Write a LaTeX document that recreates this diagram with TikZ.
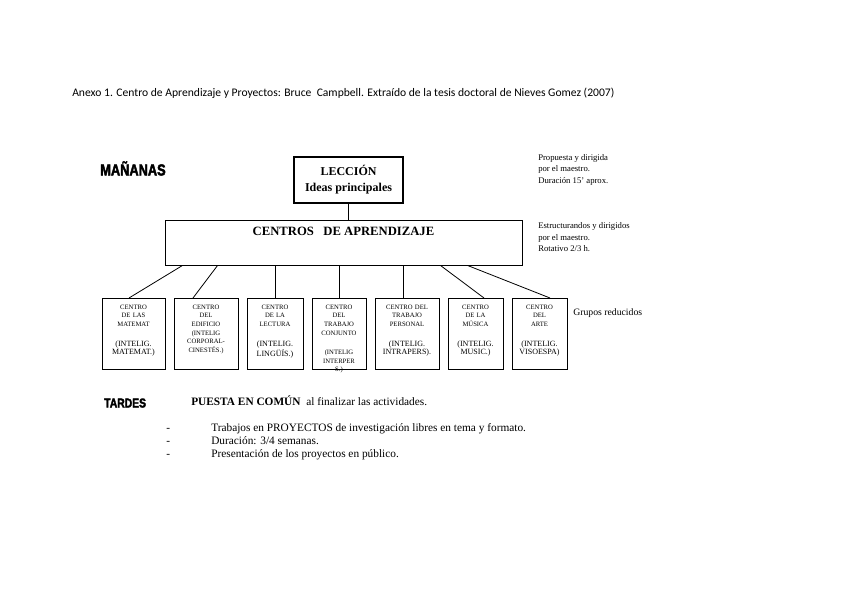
\documentclass[tikz,border=0pt]{standalone}
\usepackage{fontspec}
\setmainfont{Liberation Serif}
\newfontfamily\titlefont{Carlito}
\newfontfamily\heavyfont[FakeStretch=0.8,FakeBold=2.5]{Liberation Sans}
\usetikzlibrary{positioning,calc}

\newcommand{\intel}{\fontsize{6}{6.75}\selectfont}

\begin{document}
\begin{tikzpicture}[x=0.75pt, y=-0.75pt,
    box/.style={draw, line width=0.6pt, inner sep=0pt},
    centro/.style={draw, line width=0.6pt, anchor=north, align=center, inner xsep=0pt, inner ysep=3pt,
        text height=5.25pt, text depth=42pt, font=\fontsize{5}{6.4}\selectfont},
    nota/.style={anchor=north west, align=left, inner sep=0pt, font=\fontsize{6.5}{8.6}\selectfont},
    turno/.style={anchor=base west, inner sep=0pt, font=\heavyfont\bfseries},
    conector/.style={line width=0.6pt}]
\useasboundingbox (0,0) rectangle (848,599);

% titulo
\node[anchor=base west, inner sep=0pt, font=\titlefont\fontsize{8.7}{10}\selectfont] (titulo) at (72,96.5)
    {Anexo 1. Centro de Aprendizaje y Proyectos: Bruce\ \ Campbell. Extraído de la tesis doctoral de Nieves Gomez (2007)};

% mananas
\node[turno, font=\heavyfont\bfseries\fontsize{12}{12}\selectfont] (mananas) at (100,175.5) {MAÑANAS};
\node[draw, line width=1.6pt, minimum width=81.75pt, minimum height=34.5pt, align=center, inner sep=0pt,
    font=\bfseries\fontsize{9}{11}\selectfont] (leccion) at (348.5,180) {LECCIÓN\\[1pt]Ideas principales};
\node[box, minimum width=267.75pt, minimum height=33.75pt] (centros) at (343.5,242.5) {};
\node[below=5.6pt of centros.north, inner sep=0pt, font=\bfseries\fontsize{9.5}{11}\selectfont] (centrostxt)
    {CENTROS\ \ \ DE APRENDIZAJE};
\draw[conector] (leccion.south) -- (leccion.south |- centros.north);

\node[nota] (nota1) at (538,154) {Propuesta y dirigida\\por el maestro.\\Duración 15' aprox.};
\node[nota] (nota2) at (538,222.5) {Estructurandos y dirigidos\\por el maestro.\\Rotativo 2/3 h.};

% centros
\node[centro, text width=47.25pt] (m1) at (133.5,298) {CENTRO\\DE LAS\\MATEMAT\par\vspace{8pt}\intel(INTELIG.\\MATEMAT.)};
\node[centro, text width=48pt] (m2) at (206,298) {CENTRO\\DEL\\EDIFICIO\\(INTELIG\\CORPORAL-\\CINESTÉS.)};
\node[centro, text width=42pt] (m3) at (275,298) {CENTRO\\DE LA\\LECTURA\par\vspace{8pt}\intel(INTELIG.\\LINGÜÍS.)};
\node[centro, text width=40.5pt] (m4) at (339,298) {CENTRO\\DEL\\TRABAJO\\CONJUNTO\par\vspace{8.5pt}(INTELIG\\INTERPER\\S.)};
\node[centro, text width=48pt] (m5) at (407,298) {CENTRO DEL\\TRABAJO\\PERSONAL\par\vspace{8pt}\intel(INTELIG.\\INTRAPERS).};
\node[centro, text width=41.25pt] (m6) at (475.5,298) {CENTRO\\DE LA\\MÚSICA\par\vspace{8pt}\intel(INTELIG.\\MUSIC.)};
\node[centro, text width=41.25pt] (m7) at (539.5,298) {CENTRO\\DEL\\ARTE\par\vspace{8pt}\intel(INTELIG.\\VISOESPA)};
\node[anchor=base west, inner sep=0pt, font=\fontsize{7.3}{9}\selectfont] (grupos) at (573,315.5) {Grupos reducidos};

\draw[conector] ($(centros.south west)+(18,0)$) -- ($(m1.north)+(-4.5,0)$);
\draw[conector] ($(centros.south west)+(53,0)$) -- ($(m2.north)+(-13,0)$);
\draw[conector] (m3.north |- centros.south) -- (m3.north);
\draw[conector] (m4.north |- centros.south) -- (m4.north);
\draw[conector] ($(m5.north |- centros.south)+(-4,0)$) -- ($(m5.north)+(-4,0)$);
\draw[conector] ($(centros.south east)+(-82,0)$) -- ($(m6.north)+(8.5,0)$);
\draw[conector] ($(centros.south east)+(-55,0)$) -- ($(m7.north)+(10.5,0)$);

% tardes
\node[turno, font=\heavyfont\bfseries\fontsize{9.7}{10}\selectfont] (tardes) at (104,407.5) {TARDES};
\node[anchor=base west, inner sep=0pt, font=\fontsize{8.5}{10}\selectfont] (puesta) at (191,405)
    {\textbf{PUESTA EN COMÚN}\ \ al finalizar las actividades.};
\node[anchor=north west, align=left, inner sep=0pt, font=\fontsize{8.5}{9.75}\selectfont] (lista) at (166,423)
    {\makebox[33.75pt][l]{-}Trabajos en PROYECTOS de investigación libres en tema y formato.\\
     \makebox[33.75pt][l]{-}Duración: 3/4 semanas.\\
     \makebox[33.75pt][l]{-}Presentación de los proyectos en público.};
\end{tikzpicture}
\end{document}
